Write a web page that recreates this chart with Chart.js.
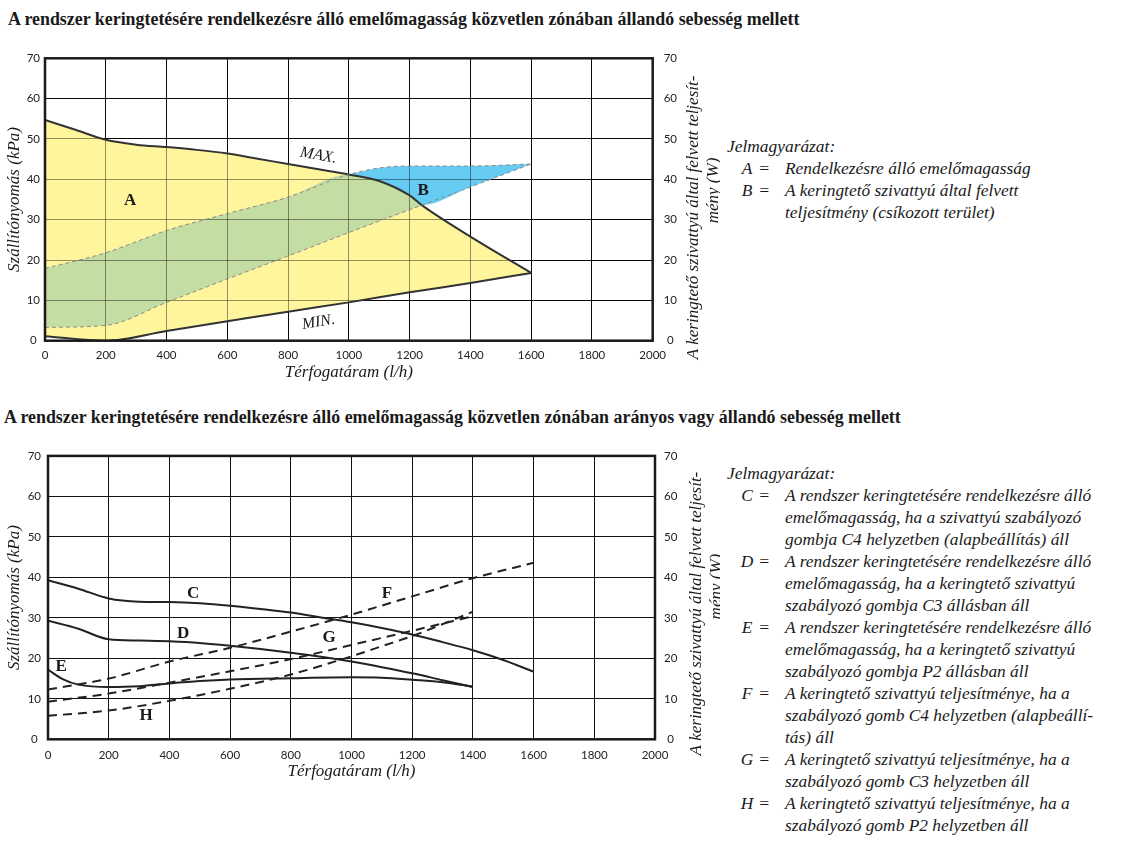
<!DOCTYPE html>
<html><head><meta charset="utf-8">
<script src="https://cdn.jsdelivr.net/npm/chart.js@4.4.1/dist/chart.umd.min.js"></script>
<style>
body{margin:0;background:#fff;width:1126px;height:846px;overflow:hidden;position:relative;font-family:'Liberation Serif',serif;color:#1a1a1a}
.title{position:absolute;font-weight:bold;font-size:17.9px;white-space:nowrap;line-height:20px}
.cv{position:absolute;left:0}
.legend{position:absolute;left:727px;font-style:italic;font-size:17.4px;line-height:22px;white-space:nowrap}
.row{position:relative;padding-left:58px}
.row .k{position:absolute;left:10px;width:20px;text-align:center}
.row .eq{position:absolute;left:31px;width:12px;text-align:center}
</style></head>
<body>
<div class="title" id="t1" style="left:8px;top:9px"></div>
<div class="title" id="t2" style="left:4px;top:407px"></div>
<canvas id="c1" class="cv" width="720" height="350" style="top:40px;width:720px;height:350px"></canvas>
<canvas id="c2" class="cv" width="720" height="350" style="top:440px;width:720px;height:350px"></canvas>
<div class="legend" id="lg1" style="top:135px"></div>
<div class="legend" id="lg2" style="top:462px"></div>
<script>
// ---------- text ----------
const title1 = 'A rendszer keringtetésére rendelkezésre álló emelőmagasság közvetlen zónában állandó sebesség mellett';
const title2 = 'A rendszer keringtetésére rendelkezésre álló emelőmagasság közvetlen zónában arányos vagy állandó sebesség mellett';
const xTitle = 'Térfogatáram (l/h)';
const yTitle = 'Szállítónyomás (kPa)';
const y2Title = ['A keringtető szivattyú által felvett teljesít-', 'mény (W)'];
const legendHead = 'Jelmagyarázat:';
const legendTop = [
  ['A', 'Rendelkezésre álló emelőmagasság'],
  ['B', 'A keringtető szivattyú által felvett', 'teljesítmény (csíkozott terület)']
];
const legendBottom = [
  ['C', 'A rendszer keringtetésére rendelkezésre álló', 'emelőmagasság, ha a szivattyú szabályozó', 'gombja C4 helyzetben (alapbeállítás) áll'],
  ['D', 'A rendszer keringtetésére rendelkezésre álló', 'emelőmagasság, ha a keringtető szivattyú', 'szabályozó gombja C3 állásban áll'],
  ['E', 'A rendszer keringtetésére rendelkezésre álló', 'emelőmagasság, ha a keringtető szivattyú', 'szabályozó gombja P2 állásban áll'],
  ['F', 'A keringtető szivattyú teljesítménye, ha a', 'szabályozó gomb C4 helyzetben (alapbeállí-', 'tás) áll'],
  ['G', 'A keringtető szivattyú teljesítménye, ha a', 'szabályozó gomb C3 helyzetben áll'],
  ['H', 'A keringtető szivattyú teljesítménye, ha a', 'szabályozó gomb P2 helyzetben áll']
];

// ---------- ticks ----------
const flowTicks = [0,200,400,600,800,1000,1200,1400,1600,1800,2000];
const pressureTicks = [0,10,20,30,40,50,60,70];
const powerTicks = [0,10,20,30,40,50,60,70];

// ---------- top chart data [flow l/h, value] ----------
const topMax = [[0,54.7],[100,52.3],[200,49.8],[300,48.6],[400,48.0],[500,47.3],[600,46.4],[700,45.1],[800,43.8],[900,42.5],[1000,41.2],[1100,39.6],[1200,36.0],[1240,33.6],[1400,25.8],[1600,16.8]];
const topMin = [[0,1.1],[200,0],[400,2.4],[600,4.8],[800,7.2],[1000,9.5],[1200,12.0],[1400,14.3],[1600,16.8]];
const topPowerUpper = [[0,17.9],[200,21.8],[400,27.3],[600,31.5],[800,35.6],[1000,41.2],[1100,42.8],[1200,43.3],[1400,43.3],[1600,43.8]];
const topPowerLower = [[0,3.3],[200,3.8],[400,9.5],[600,15.3],[800,21.0],[1000,26.8],[1240,33.6],[1400,38.1],[1600,43.8]];

// ---------- bottom chart data ----------
const curveC = [[0,39.3],[100,37.2],[200,34.8],[300,34.0],[400,33.9],[500,33.6],[600,33.0],[700,32.2],[800,31.3],[900,30.1],[1000,28.9],[1100,27.5],[1200,25.9],[1300,24.0],[1400,22.0],[1500,19.6],[1600,16.7]];
const curveD = [[0,29.3],[100,27.3],[200,24.7],[300,24.4],[400,24.2],[500,23.8],[600,23.1],[700,22.3],[800,21.4],[900,20.4],[1000,19.2],[1100,17.8],[1200,16.3],[1300,14.6],[1400,12.9]];
const curveE = [[0,17.2],[50,14.8],[100,13.5],[200,12.9],[300,13.1],[400,13.8],[500,14.4],[600,14.8],[800,15.1],[1000,15.3],[1100,15.2],[1200,14.7],[1300,14.1],[1400,13.0]];
const powerF = [[0,12.3],[200,15.0],[400,19.2],[600,22.6],[800,26.6],[1000,30.8],[1200,35.3],[1400,39.8],[1600,43.6]];
const powerG = [[0,9.3],[200,11.3],[400,14.0],[600,16.8],[800,19.8],[1000,23.3],[1200,26.8],[1400,30.4]];
const powerH = [[0,5.8],[200,7.1],[400,9.5],[600,12.5],[800,16.0],[1000,20.5],[1100,23.0],[1200,25.5],[1400,31.5]];

// ---------- in-plot labels (data coordinates) ----------
const topNotes = [
  {text:'A', x:280, y:34.7, font:'bold 17px "Liberation Serif"'},
  {text:'B', x:1245, y:37.2, font:'bold 17px "Liberation Serif"'},
  {text:'MAX.', x:900, y:45.9, rot:10, font:'italic 16px "Liberation Serif"'},
  {text:'MIN.', x:900, y:4.6, rot:-9, font:'italic 16px "Liberation Serif"'}
];
const bottomNotes = [
  {text:'C', x:478, y:36.1}, {text:'D', x:445, y:26.0}, {text:'E', x:43, y:17.9},
  {text:'F', x:1117, y:36.1}, {text:'G', x:926, y:25.0}, {text:'H', x:323, y:5.8}
].map(n => Object.assign({font:'bold 17px "Liberation Serif"'}, n));

// ---------- html text ----------
document.getElementById('t1').textContent = title1;
document.getElementById('t2').textContent = title2;
function buildLegend(el, items){
  const h = document.createElement('div'); h.textContent = legendHead; el.appendChild(h);
  items.forEach(it => {
    const r = document.createElement('div'); r.className = 'row';
    const k = document.createElement('span'); k.className = 'k'; k.textContent = it[0];
    const e = document.createElement('span'); e.className = 'eq'; e.textContent = '=';
    r.appendChild(k); r.appendChild(e);
    it.slice(1).forEach((t,i) => { if(i) r.appendChild(document.createElement('br')); r.appendChild(document.createTextNode(t)); });
    el.appendChild(r);
  });
}
buildLegend(document.getElementById('lg1'), legendTop);
buildLegend(document.getElementById('lg2'), legendBottom);

// ---------- helpers ----------
const pts = a => a.map(p => ({x:p[0], y:p[1]}));
const TXT = '#1a1a1a';
Chart.defaults.font.family = 'Lato';
Chart.defaults.color = '#222';

function decor(cfg){
  return {
    id:'decor',
    beforeDatasetsDraw(chart){
      if(!cfg.gridOverlay) return;
      const {ctx, chartArea:a, scales:{x, y}} = chart;
      ctx.save(); ctx.strokeStyle = 'rgba(0,0,0,0.42)'; ctx.lineWidth = 1; ctx.beginPath();
      flowTicks.forEach(v => { const p = Math.round(x.getPixelForValue(v) - 0.5) + 0.5; ctx.moveTo(p, a.top); ctx.lineTo(p, a.bottom); });
      pressureTicks.forEach(v => { const p = Math.round(y.getPixelForValue(v) - 0.5) + 0.5; ctx.moveTo(a.left, p); ctx.lineTo(a.right, p); });
      ctx.stroke(); ctx.restore();
    },
    afterDraw(chart){
      const {ctx, chartArea:a, scales} = chart;
      ctx.save();
      ctx.strokeStyle = TXT; ctx.lineWidth = 2.5;
      ctx.strokeRect(a.left, a.top, a.right - a.left, a.bottom - a.top);
      ctx.fillStyle = TXT; ctx.textAlign = 'center'; ctx.textBaseline = 'middle';
      cfg.notes.forEach(n => {
        ctx.save();
        ctx.translate(scales.x.getPixelForValue(n.x), scales.y.getPixelForValue(n.y));
        ctx.rotate((n.rot || 0) * Math.PI / 180);
        ctx.font = n.font; ctx.fillText(n.text, 0, 0); ctx.restore();
      });
      ctx.font = 'italic 17px "Liberation Serif"';
      const cx = (a.left + a.right) / 2, cy = (a.top + a.bottom) / 2;
      ctx.fillText(xTitle, cx, a.bottom + 32);
      ctx.save(); ctx.translate(15, cy); ctx.rotate(-Math.PI / 2); ctx.fillText(yTitle, 0, 0); ctx.restore();
      y2Title.forEach((line, i) => {
        ctx.save(); ctx.translate(a.right + cfg.y2dx[i], cy + cfg.y2dy[i]); ctx.rotate(-Math.PI / 2);
        ctx.fillText(line, 0, 0); ctx.restore();
      });
      ctx.restore();
    }
  };
}

function makeChart(id, datasets, g, notes, overlay){
  const tickFont = {family:'Lato', size:11.5};
  const plain = v => String(v);
  return new Chart(document.getElementById(id), {
    type:'line',
    data:{datasets},
    options:{
      responsive:false, animation:false, events:[],
      layout:{padding:{top:g.top, left:0, right:0, bottom:0}},
      elements:{point:{radius:0}, line:{cubicInterpolationMode:'monotone'}},
      plugins:{legend:{display:false}, tooltip:{enabled:false}, filler:{drawTime:'beforeDatasetsDraw'}},
      scales:{
        x:{type:'linear', min:0, max:2000,
           afterBuildTicks: s => { s.ticks = flowTicks.map(v => ({value:v})); },
           afterFit: s => { s.height = g.xh; },
           grid:{color:'#111', lineWidth:1, drawTicks:false}, border:{display:false},
           ticks:{font:tickFont, padding:g.xpad, maxRotation:0, autoSkip:false, callback:plain}},
        y:{type:'linear', position:'left', min:0, max:70,
           afterBuildTicks: s => { s.ticks = pressureTicks.map(v => ({value:v})); },
           afterFit: s => { s.width = g.yw; },
           grid:{color:'#111', lineWidth:1, drawTicks:false}, border:{display:false},
           ticks:{font:tickFont, padding:g.ypad, crossAlign:'center', callback:plain}},
        y2:{type:'linear', position:'right', min:0, max:70,
           afterBuildTicks: s => { s.ticks = powerTicks.map(v => ({value:v})); },
           afterFit: s => { s.width = g.y2w; },
           grid:{drawOnChartArea:false, drawTicks:false}, border:{display:false},
           ticks:{font:tickFont, padding:g.y2pad, crossAlign:'center', callback:plain}}
      }
    },
    plugins:[decor({notes, gridOverlay:overlay, y2dx:g.y2dx, y2dy:g.y2dy})]
  });
}

const none = 'rgba(0,0,0,0)';
const dashGray = {borderColor:'#8a8a8a', borderWidth:1, borderDash:[4,3], fill:false};

// composed region boundaries (reuse read values)
const greenTop = topPowerUpper.filter(p => p[0] <= 1000).concat(topMax.filter(p => p[0] > 1000 && p[0] <= 1240));
const blueTop = topPowerUpper.filter(p => p[0] >= 1000);
const blueBottom = topMax.filter(p => p[0] >= 1000 && p[0] <= 1240).concat(topPowerLower.filter(p => p[0] > 1240));

makeChart('c1', [
  {label:'MAX', data:pts(topMax), borderColor:'#333', borderWidth:2, fill:1, backgroundColor:'#fff59c', order:30},
  {label:'MIN', data:pts(topMin), borderColor:'#333', borderWidth:2, fill:false, order:30},
  {label:'green', data:pts(greenTop), borderColor:none, borderWidth:0, fill:3, backgroundColor:'#c4dda2', order:20},
  Object.assign({label:'powerLower', data:pts(topPowerLower), order:5}, dashGray),
  {label:'blueTop', data:pts(blueTop), borderColor:none, borderWidth:0, fill:5, backgroundColor:'#67ccf3', order:10},
  {label:'blueBottom', data:pts(blueBottom), borderColor:none, borderWidth:0, fill:false, order:10},
  Object.assign({label:'powerUpper', data:pts(topPowerUpper), order:5}, dashGray)
], {top:18.3, xh:49.3, yw:45, y2w:67.3, xpad:8, ypad:5, y2pad:11, y2dx:[41,61], y2dy:[18,-9]}, topNotes, true);

const solid = {borderColor:'#222', borderWidth:2, fill:false};
const dashed = {borderColor:'#222', borderWidth:2, borderDash:[9,6], fill:false};
makeChart('c2', [
  Object.assign({label:'C', data:pts(curveC)}, solid),
  Object.assign({label:'D', data:pts(curveD)}, solid),
  Object.assign({label:'E', data:pts(curveE)}, solid),
  Object.assign({label:'F', data:pts(powerF)}, dashed),
  Object.assign({label:'G', data:pts(powerG)}, dashed),
  Object.assign({label:'H', data:pts(powerH)}, dashed)
], {top:15.7, xh:50.7, yw:48, y2w:65, xpad:9, ypad:7, y2pad:9, y2dx:[42,62], y2dy:[16,-11]}, bottomNotes, false);
</script>
</body></html>
